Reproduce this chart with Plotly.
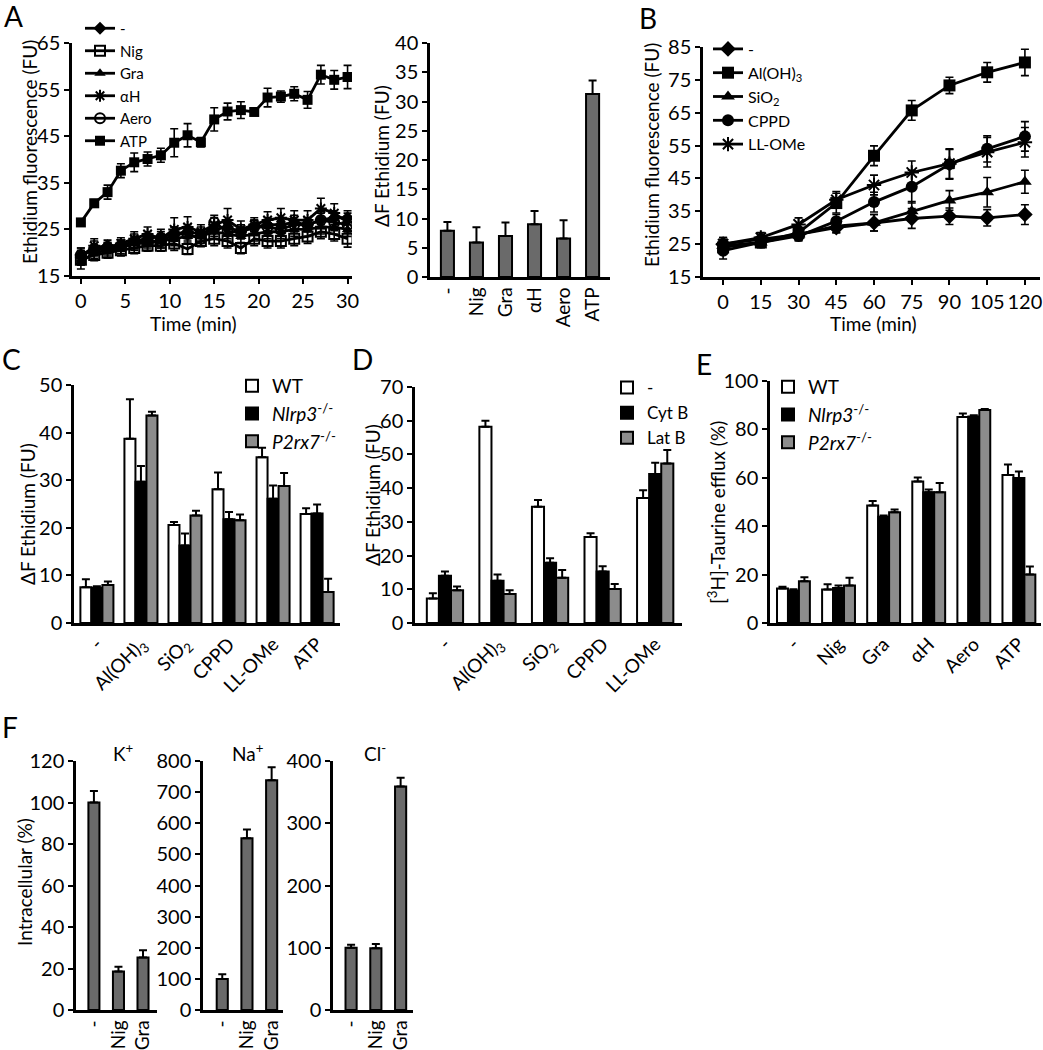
import plotly.graph_objects as go

W, H = 1043, 1050
FONT = "Lato"

# ---------------- DATA ----------------
# Panel A (left) - time course
A_time = [0, 1.5, 3, 4.5, 6, 7.5, 9, 10.5, 12, 13.5, 15, 16.5, 18, 19.5, 21, 22.5, 24, 25.5, 27, 28.5, 30]
A_none = [19.5, 21.0, 21.5, 21.5, 22.5, 23.0, 23.5, 24.0, 24.5, 24.0, 25.0, 25.5, 24.5, 25.5, 26.0, 26.0, 26.5, 26.0, 27.0, 27.5, 27.5]
A_none_err = [1.5, 1.5, 1.2, 1.2, 1.5, 1.5, 1.5, 1.5, 1.5, 1.5, 1.5, 1.5, 1.5, 1.5, 1.5, 1.5, 1.5, 1.5, 1.5, 1.5, 1.5]
A_nig = [18.5, 19.5, 20.0, 20.5, 21.0, 21.5, 21.5, 22.0, 20.8, 22.5, 23.0, 22.5, 21.0, 23.0, 22.5, 22.5, 23.0, 23.5, 24.5, 24.0, 23.0]
A_nig_err = [1.2, 1.2, 1.2, 1.2, 1.2, 1.2, 1.2, 1.5, 1.2, 1.2, 1.5, 1.5, 1.2, 1.5, 1.5, 1.5, 1.5, 1.5, 1.5, 1.5, 1.8]
A_gra = [18.0, 20.0, 20.5, 21.0, 22.0, 22.0, 22.5, 23.0, 23.5, 23.5, 24.5, 24.0, 23.5, 24.0, 24.5, 24.5, 25.0, 25.0, 25.5, 25.5, 25.0]
A_gra_err = [1.5, 1.2, 1.2, 1.2, 1.2, 1.5, 1.5, 1.5, 1.5, 1.5, 1.5, 1.5, 1.5, 1.5, 1.5, 1.5, 1.5, 1.5, 1.5, 1.5, 1.5]
A_ah = [19.0, 21.5, 21.0, 22.0, 23.0, 24.0, 23.0, 25.0, 25.5, 24.5, 26.0, 27.0, 25.0, 26.0, 27.0, 27.5, 27.0, 27.0, 29.5, 28.5, 26.5]
A_ah_err = [1.5, 1.5, 1.2, 1.2, 1.5, 1.5, 1.5, 2.5, 2.2, 1.5, 1.5, 2.5, 1.8, 1.5, 1.8, 2.0, 2.0, 2.0, 2.2, 2.0, 2.0]
A_aero = [19.5, 20.5, 21.0, 21.5, 22.0, 22.5, 22.5, 24.0, 24.0, 23.0, 26.5, 24.5, 24.5, 25.5, 25.5, 25.0, 26.0, 26.0, 27.0, 26.5, 26.0]
A_aero_err = [1.5, 1.2, 1.2, 1.2, 1.5, 1.5, 1.5, 1.5, 1.5, 1.5, 1.5, 1.5, 1.5, 1.5, 1.5, 1.5, 1.5, 1.5, 1.8, 1.8, 1.8]
A_atp = [26.5, 30.6, 33.0, 37.6, 39.4, 40.1, 40.9, 43.6, 45.2, 43.7, 48.6, 50.3, 50.6, 50.2, 53.3, 53.5, 54.1, 52.8, 58.2, 57.1, 57.7]
A_atp_err = [0.8, 0.8, 1.5, 1.5, 2.0, 1.5, 1.5, 3.0, 2.5, 1.0, 2.5, 1.8, 1.8, 0.6, 2.0, 1.2, 1.5, 1.8, 2.0, 2.0, 2.5]

# Panel A (right) - delta F bars
A_cats = ["-", "Nig", "Gra", "αH", "Aero", "ATP"]
A_dF = [7.9, 5.9, 7.0, 9.0, 6.6, 31.3]
A_dF_err = [1.5, 2.6, 2.3, 2.3, 3.1, 2.3]

# Panel B - time course
B_time = [0, 15, 30, 45, 60, 75, 90, 105, 120]
B_none = [25.0, 26.5, 28.0, 30.0, 31.5, 32.8, 33.5, 33.0, 34.0]
B_none_err = [2.0, 1.5, 1.2, 1.5, 2.5, 3.0, 2.5, 2.5, 3.0]
B_al = [24.0, 25.5, 28.5, 37.5, 51.9, 65.7, 73.3, 77.3, 80.3]
B_al_err = [2.0, 1.5, 1.5, 3.0, 3.0, 3.0, 2.5, 3.0, 4.0]
B_si = [24.5, 25.5, 28.0, 30.5, 31.5, 35.0, 38.3, 40.8, 44.0]
B_si_err = [2.0, 1.5, 1.5, 2.0, 2.5, 3.0, 3.0, 4.5, 3.5]
B_cppd = [23.0, 25.5, 27.5, 32.0, 37.8, 42.5, 49.3, 54.0, 57.8]
B_cppd_err = [2.5, 1.5, 1.5, 2.0, 3.0, 5.0, 4.5, 4.0, 4.5]
B_ll = [25.0, 27.0, 31.0, 38.5, 43.0, 46.8, 49.5, 53.0, 56.0]
B_ll_err = [2.0, 1.5, 2.0, 2.5, 3.0, 3.5, 4.5, 4.5, 4.5]

# Panel C
C_cats = ["-", "Al(OH)<sub>3</sub>", "SiO<sub>2</sub>", "CPPD", "LL-OMe", "ATP"]
C_wt = [7.5, 38.7, 20.6, 28.1, 34.8, 22.9]
C_wt_err = [1.7, 8.3, 0.6, 3.5, 2.0, 1.2]
C_nlrp3 = [7.4, 29.7, 16.3, 21.8, 26.1, 23.0]
C_nlrp3_err = [0.3, 3.3, 2.5, 1.5, 2.8, 1.9]
C_p2rx7 = [8.0, 43.6, 22.6, 21.6, 28.8, 6.5]
C_p2rx7_err = [0.7, 0.8, 1.0, 1.2, 2.7, 2.8]

# Panel D
D_cats = ["-", "Al(OH)<sub>3</sub>", "SiO<sub>2</sub>", "CPPD", "LL-OMe"]
D_none = [7.3, 58.2, 34.5, 25.5, 37.1]
D_none_err = [1.5, 1.8, 2.0, 1.1, 2.3]
D_cytb = [14.0, 12.5, 17.9, 15.3, 44.2]
D_cytb_err = [1.3, 1.9, 1.3, 1.5, 3.3]
D_latb = [9.7, 8.6, 13.4, 10.1, 47.3]
D_latb_err = [1.1, 1.1, 2.3, 1.5, 4.0]

# Panel E
E_cats = ["-", "Nig", "Gra", "αH", "Aero", "ATP"]
E_wt = [14.3, 13.8, 48.6, 58.5, 85.1, 61.2]
E_wt_err = [0.7, 2.2, 1.8, 1.6, 1.5, 4.3]
E_nlrp3 = [13.4, 14.5, 43.9, 54.0, 85.3, 59.9]
E_nlrp3_err = [0.5, 1.0, 0.5, 1.2, 0.5, 2.7]
E_p2rx7 = [17.3, 15.5, 45.8, 54.0, 88.0, 20.0]
E_p2rx7_err = [1.6, 3.2, 1.1, 3.9, 0.4, 3.3]

# Panel F
F_cats = ["-", "Nig", "Gra"]
F_k = [100.0, 18.6, 25.3]
F_k_err = [5.5, 2.3, 3.5]
F_na = [100.0, 552.0, 738.0]
F_na_err = [15.0, 28.0, 42.0]
F_cl = [100.0, 99.0, 359.0]
F_cl_err = [5.0, 7.0, 14.0]

# ---------------- STYLE ----------------
DARK_GRAY = "#6a6a6a"
MID_GRAY = "#8c8c8c"


def xd(a, b):
    return [a / W, b / W]


def yd(top, bottom):
    return [1 - bottom / H, 1 - top / H]


fig = go.Figure()


def err_sym(vals):
    return dict(type="data", array=vals, color="black", thickness=1.6, width=4)


def err_up(vals):
    return dict(type="data", array=vals, arrayminus=[0] * len(vals), symmetric=False,
                color="black", thickness=2, width=4)


def add_line(x, y, e, name, symbol, xa, ya, legend, size=10):
    open_sym = symbol.endswith("open")
    fig.add_trace(go.Scatter(
        x=x, y=y, name=name, mode="lines+markers", xaxis=xa, yaxis=ya, legend=legend,
        line=dict(color="black", width=2.8),
        marker=dict(symbol=symbol, size=size, color="black",
                    line=dict(color="black", width=2 if open_sym else 0)),
        error_y=err_sym(e),
    ))


# Panel A left
A_series = [
    (A_none, A_none_err, "-", "diamond"),
    (A_nig, A_nig_err, "Nig", "square-open"),
    (A_gra, A_gra_err, "Gra", "triangle-up"),
    (A_ah, A_ah_err, "αH", "asterisk-open"),
    (A_aero, A_aero_err, "Aero", "circle-open"),
    (A_atp, A_atp_err, "ATP", "square"),
]
for y, e, n, s in A_series:
    add_line(A_time, y, e, n, s, "x", "y", "legend", size=10)

# Panel B
B_series = [
    (B_none, B_none_err, "-", "diamond"),
    (B_al, B_al_err, "Al(OH)<sub>3</sub>", "square"),
    (B_si, B_si_err, "SiO<sub>2</sub>", "triangle-up"),
    (B_cppd, B_cppd_err, "CPPD", "circle"),
    (B_ll, B_ll_err, "LL-OMe", "asterisk-open"),
]
for y, e, n, s in B_series:
    add_line(B_time, y, e, n, s, "x3", "y3", "legend2", size=12)


def add_bars(vals, errs, color, xa, ya, width, offset, name=None, legend=None):
    fig.add_trace(go.Bar(
        x=list(range(len(vals))), y=vals, xaxis=xa, yaxis=ya,
        width=width, offset=offset,
        marker=dict(color=color, line=dict(color="black", width=2)),
        error_y=err_up(errs),
        name=name if name else "", showlegend=legend is not None,
        legend=legend if legend else "legend",
    ))


# Panel A right
add_bars(A_dF, A_dF_err, DARK_GRAY, "x2", "y2", 0.45, -0.225)

# Panel C
wC = 0.25
for i, (v, e, c, n) in enumerate([
    (C_wt, C_wt_err, "white", "WT"),
    (C_nlrp3, C_nlrp3_err, "black", "<i>Nlrp3</i><sup>-/-</sup>"),
    (C_p2rx7, C_p2rx7_err, MID_GRAY, "<i>P2rx7</i><sup>-/-</sup>"),
]):
    add_bars(v, e, c, "x4", "y4", wC, -1.5 * wC + i * wC, n, "legend3")

# Panel D
wD = 0.23
for i, (v, e, c, n) in enumerate([
    (D_none, D_none_err, "white", "-"),
    (D_cytb, D_cytb_err, "black", "Cyt B"),
    (D_latb, D_latb_err, MID_GRAY, "Lat B"),
]):
    add_bars(v, e, c, "x5", "y5", wD, -1.5 * wD + i * wD, n, "legend4")

# Panel E
wE = 0.243
for i, (v, e, c, n) in enumerate([
    (E_wt, E_wt_err, "white", "WT"),
    (E_nlrp3, E_nlrp3_err, "black", "<i>Nlrp3</i><sup>-/-</sup>"),
    (E_p2rx7, E_p2rx7_err, MID_GRAY, "<i>P2rx7</i><sup>-/-</sup>"),
]):
    add_bars(v, e, c, "x6", "y6", wE, -1.5 * wE + i * wE, n, "legend5")

# Panel F
add_bars(F_k, F_k_err, DARK_GRAY, "x7", "y7", 0.45, -0.225)
add_bars(F_na, F_na_err, DARK_GRAY, "x8", "y8", 0.45, -0.225)
add_bars(F_cl, F_cl_err, DARK_GRAY, "x9", "y9", 0.45, -0.225)

# ---------------- AXES ----------------
TICKFONT = dict(family=FONT, size=20, color="black")


def axis_common(**kw):
    d = dict(showline=True, linecolor="black", linewidth=2.5, showgrid=False, zeroline=False,
             ticks="outside", ticklen=5, tickwidth=2, tickcolor="black", tickfont=TICKFONT,
             fixedrange=True, automargin=False)
    d.update(kw)
    return d


def cat_axis(dom, rng, cats, angle, anchor, size=19):
    return axis_common(domain=dom, range=rng, tickvals=list(range(len(cats))), ticktext=cats,
                       tickangle=angle, ticks="", anchor=anchor,
                       tickfont=dict(family=FONT, size=size, color="black"))


def val_axis(dom, rng, dtick, anchor):
    return axis_common(domain=dom, range=rng, tick0=0, dtick=dtick, anchor=anchor)


layout = dict(
    width=W, height=H, margin=dict(l=0, r=0, t=0, b=0, pad=0, autoexpand=False),
    paper_bgcolor="white", plot_bgcolor="rgba(0,0,0,0)",
    font=dict(family=FONT, color="black"),
    barmode="overlay",
    # A left
    xaxis=axis_common(domain=xd(72, 352), range=[-1, 30.5], tickvals=[0, 5, 10, 15, 20, 25, 30], anchor="y"),
    yaxis=axis_common(domain=yd(43, 276), range=[15, 65], tickvals=[15, 25, 35, 45, 55, 65], anchor="x"),
    # A right
    xaxis2=cat_axis(xd(430, 610), [-0.6, 5.6], A_cats, -90, "y2"),
    yaxis2=val_axis(yd(43, 277), [0, 40], 5, "x2"),
    # B
    xaxis3=axis_common(domain=xd(703, 1040), range=[-8, 126], tickvals=B_time, anchor="y3"),
    yaxis3=axis_common(domain=yd(47, 277), range=[15, 85], tickvals=[15, 25, 35, 45, 55, 65, 75, 85], anchor="x3"),
    # C
    xaxis4=cat_axis(xd(74, 340), [-0.52, 5.52], C_cats, -45, "y4"),
    yaxis4=val_axis(yd(385, 623), [0, 50], 10, "x4"),
    # D
    xaxis5=cat_axis(xd(415, 682), [-0.57, 4.51], D_cats, -45, "y5"),
    yaxis5=val_axis(yd(387, 623), [0, 70], 10, "x5"),
    # E
    xaxis6=cat_axis(xd(770, 1041), [-0.52, 5.49], E_cats, -45, "y6"),
    yaxis6=val_axis(yd(381, 623), [0, 100], 20, "x6"),
    # F
    xaxis7=cat_axis(xd(76, 157), [-0.73, 2.57], F_cats, -90, "y7"),
    yaxis7=val_axis(yd(761, 1010), [0, 120], 20, "x7"),
    xaxis8=cat_axis(xd(203, 283), [-0.78, 2.46], F_cats, -90, "y8"),
    yaxis8=val_axis(yd(761, 1010), [0, 800], 100, "x8"),
    xaxis9=cat_axis(xd(333, 413), [-0.73, 2.5], F_cats, -90, "y9"),
    yaxis9=val_axis(yd(761, 1010), [0, 400], 100, "x9"),
)


def leg(xpx, ypx, size):
    return dict(x=xpx / W, y=1 - ypx / H, xanchor="left", yanchor="top",
                bgcolor="rgba(0,0,0,0)", borderwidth=0, tracegroupgap=0,
                font=dict(family=FONT, size=size, color="black"), itemclick=False,
                itemdoubleclick=False)


layout["legend"] = leg(80, 12, 15)
layout["legend2"] = leg(708, 32, 16)
layout["legend3"] = leg(232, 367, 19)
layout["legend4"] = leg(607, 370, 17)
layout["legend5"] = leg(768, 368, 19)

fig.update_layout(**layout)

# ---------------- ANNOTATIONS ----------------
ann = []


def text(xpx, ypx, s, size=19, angle=0):
    ann.append(dict(x=xpx / W, y=1 - ypx / H, xref="paper", yref="paper", text=s,
                    showarrow=False, textangle=angle, xanchor="center", yanchor="middle",
                    font=dict(family=FONT, size=size, color="black")))


# y titles
text(29, 152, "Ethidium fluorescence (FU)", 19, -90)
text(381, 156, "ΔF Ethidium (FU)", 19, -90)
text(651, 155, "Ethidium fluorescence (FU)", 19, -90)
text(27, 514, "ΔF Ethidium (FU)", 19, -90)
text(372, 495, "ΔF Ethidium (FU)", 19, -90)
text(716, 513, "[<sup>3</sup>H]-Taurine efflux (%)", 19, -90)
text(24, 882, "Intracellular (%)", 19, -90)
# x titles
text(193, 323, "Time (min)", 19)
text(873, 324, "Time (min)", 19)
# F subtitles
text(123, 752, "K<sup>+</sup>", 19)
text(248, 752, "Na<sup>+</sup>", 19)
text(375, 752, "Cl<sup>-</sup>", 19)
# panel letters
text(13, 16, "A", 28)
text(648, 18, "B", 28)
text(11, 359, "C", 28)
text(362, 359, "D", 28)
text(704, 364, "E", 28)
text(10, 727, "F", 28)

fig.update_layout(annotations=ann)

fig.write_html(
    "out.html",
    config={"displayModeBar": False},
    post_script="document.body.style.margin='0';document.body.style.overflow='hidden';",
)
